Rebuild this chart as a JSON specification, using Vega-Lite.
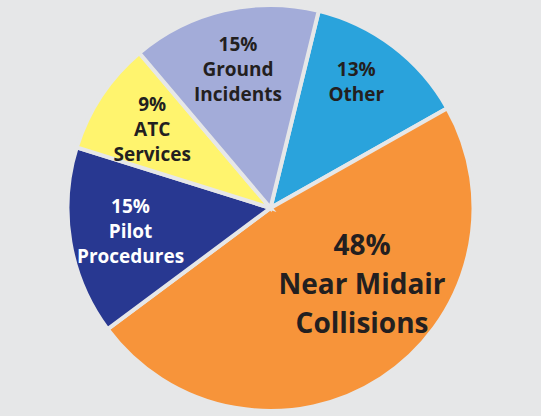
{
  "$schema": "https://vega.github.io/schema/vega-lite/v6.json",
  "width": 541,
  "height": 416,
  "autosize": {"type": "fit", "contains": "padding"},
  "background": "#e6e7e8",
  "config": {"view": {"stroke": null}},
  "data": {
    "values": [
      {"category": "Other", "pct": 13, "order": 1, "label": "13%\nOther"},
      {"category": "Near Midair Collisions", "pct": 48, "order": 2, "label": "48%\nNear Midair\nCollisions"},
      {"category": "Pilot Procedures", "pct": 15, "order": 3, "label": "15%\nPilot\nProcedures"},
      {"category": "ATC Services", "pct": 9, "order": 4, "label": "9%\nATC\nServices"},
      {"category": "Ground Incidents", "pct": 15, "order": 5, "label": "15%\nGround\nIncidents"}
    ]
  },
  "transform": [
    {"calculate": "datum.category === 'Near Midair Collisions' ? '' : datum.label", "as": "smallLabel"},
    {"calculate": "datum.category === 'Near Midair Collisions' ? datum.label : ''", "as": "bigLabel"}
  ],
  "encoding": {
    "theta": {"field": "pct", "type": "quantitative", "stack": true, "scale": {"range": [0.24, 6.5232]}},
    "order": {"field": "order", "type": "quantitative"}
  },
  "layer": [
    {
      "mark": {"type": "arc", "outerRadius": 203, "stroke": "#e6e7e8", "strokeWidth": 4},
      "encoding": {
        "color": {
          "field": "category",
          "type": "nominal",
          "legend": null,
          "scale": {
            "domain": ["Other", "Near Midair Collisions", "Pilot Procedures", "ATC Services", "Ground Incidents"],
            "range": ["#2aa3dc", "#f7943a", "#283891", "#fff46e", "#a3acd9"]
          }
        }
      }
    },
    {
      "mark": {"type": "text", "radius": 142, "dy": -25, "font": "Open Sans", "fontWeight": "bold", "fontSize": 19, "lineHeight": 25, "lineBreak": "\n", "align": "center", "baseline": "middle"},
      "encoding": {
        "text": {"field": "smallLabel", "type": "nominal"},
        "color": {"condition": {"test": "datum.category === 'Pilot Procedures'", "value": "#ffffff"}, "value": "#231f20"}
      }
    },
    {
      "mark": {"type": "text", "radius": 100, "dx": 37, "dy": -45, "font": "Open Sans", "fontWeight": "bold", "fontSize": 28, "lineHeight": 39, "lineBreak": "\n", "align": "center", "baseline": "middle", "color": "#231f20"},
      "encoding": {
        "text": {"field": "bigLabel", "type": "nominal"}
      }
    }
  ]
}
